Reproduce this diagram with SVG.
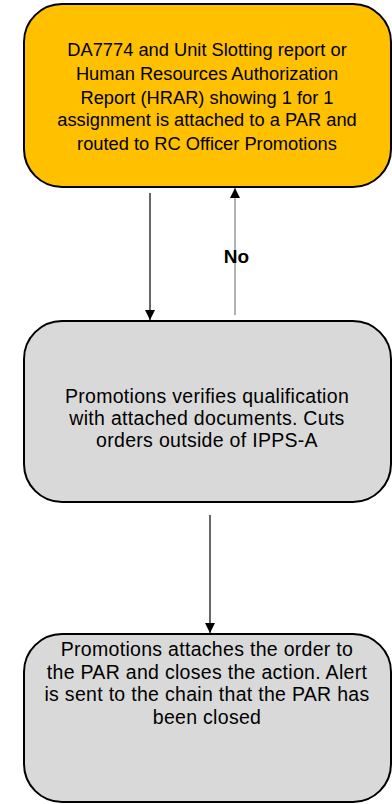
<svg xmlns="http://www.w3.org/2000/svg" width="392" height="804" viewBox="0 0 392 804">
  <defs>
    <marker id="tip" viewBox="0 0 10 10" refX="10" refY="5" markerWidth="10" markerHeight="10" markerUnits="userSpaceOnUse" orient="auto">
      <path d="M0,0 L10,5 L0,10 Z" fill="#000"/>
    </marker>
    <style>
      .box { stroke: #000; stroke-width: 2; }
      .t { font-family: "Liberation Sans", "Open Sans", sans-serif; font-size: 18.3px; fill: #000; text-anchor: middle; }
      .t2 { font-family: "Liberation Sans", "Open Sans", sans-serif; font-size: 19.5px; letter-spacing: 0.3px; fill: #000; text-anchor: middle; }
      .lbl { font-family: "Liberation Sans", "Open Sans", sans-serif; font-size: 19px; font-weight: bold; fill: #000; text-anchor: middle; }
      .edge { fill: none; stroke-width: 1.2; }
    </style>
  </defs>
  <rect width="392" height="804" fill="#fff"/>

  <g id="connectors">
    <line class="edge" x1="150" y1="193" x2="150" y2="320" stroke="#000" marker-end="url(#tip)"/>
    <line class="edge" x1="235" y1="315" x2="235" y2="188" stroke="#7f7f7f" marker-end="url(#tip)"/>
    <text class="lbl" x="236.5" y="262.5">No</text>
    <line class="edge" x1="210" y1="515" x2="210" y2="633" stroke="#000" marker-end="url(#tip)"/>
  </g>

  <g id="submit">
    <rect class="box" x="24" y="4" width="367" height="183" rx="38" fill="#ffc000"/>
    <text class="t" x="207" y="55.5">DA7774 and Unit Slotting report or</text>
    <text class="t" x="207" y="79.5">Human Resources Authorization</text>
    <text class="t" x="207" y="103.5">Report (HRAR) showing 1 for 1</text>
    <text class="t" x="207" y="126">assignment is attached to a PAR and</text>
    <text class="t" x="207" y="149.5">routed to RC Officer Promotions</text>
  </g>

  <g id="verify">
    <rect class="box" x="24" y="321" width="367" height="181" rx="38" fill="#d9d9d9"/>
    <text class="t2" x="207" y="403">Promotions verifies qualification</text>
    <text class="t2" x="207" y="425">with attached documents. Cuts</text>
    <text class="t2" x="207" y="447">orders outside of IPPS-A</text>
  </g>

  <g id="close">
    <rect class="box" x="24" y="634" width="367" height="168" rx="38" fill="#d9d9d9"/>
    <text class="t2" x="207" y="656">Promotions attaches the order to</text>
    <text class="t2" x="207" y="678.5">the PAR and closes the action. Alert</text>
    <text class="t2" x="207" y="701">is sent to the chain that the PAR has</text>
    <text class="t2" x="207" y="723.5">been closed</text>
  </g>
</svg>
